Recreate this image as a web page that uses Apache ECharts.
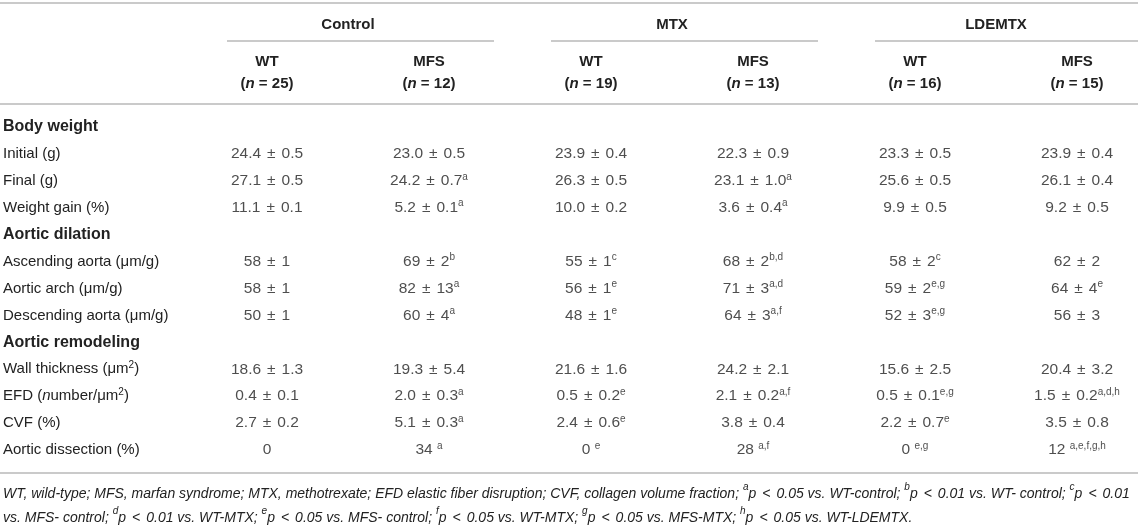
<!DOCTYPE html>
<html>
<head>
<meta charset="utf-8">
<script src="https://cdn.jsdelivr.net/npm/echarts@6/dist/echarts.min.js"></script>
<style>
  html, body { margin: 0; padding: 0; background: #fff; }
  #main { width: 1143px; height: 529px; }
</style>
</head>
<body>
<div id="main"></div>
<script>
// table content
const groups = ['Control', 'MTX', 'LDEMTX']
const columnNames = ['WT', 'MFS', 'WT', 'MFS', 'WT', 'MFS']
const columnN = [25, 12, 19, 13, 16, 15]

const rowLabels = [
	'Body weight',
	'Initial (g)',
	'Final (g)',
	'Weight gain (%)',
	'Aortic dilation',
	'Ascending aorta (μm/g)',
	'Aortic arch (μm/g)',
	'Descending aorta (μm/g)',
	'Aortic remodeling',
	'Wall thickness (μm²)',
	'EFD (number/μm²)',
	'CVF (%)',
	'Aortic dissection (%)',
]
const sectionRows = ['Body weight', 'Aortic dilation', 'Aortic remodeling']

// '^' starts the superscript part of a cell
const controlWT = ['', '24.4 ± 0.5', '27.1 ± 0.5', '11.1 ± 0.1', '', '58 ± 1', '58 ± 1', '50 ± 1', '', '18.6 ± 1.3', '0.4 ± 0.1', '2.7 ± 0.2', '0']
const controlMFS = ['', '23.0 ± 0.5', '24.2 ± 0.7^a', '5.2 ± 0.1^a', '', '69 ± 2^b', '82 ± 13^a', '60 ± 4^a', '', '19.3 ± 5.4', '2.0 ± 0.3^a', '5.1 ± 0.3^a', '34 ^a']
const mtxWT = ['', '23.9 ± 0.4', '26.3 ± 0.5', '10.0 ± 0.2', '', '55 ± 1^c', '56 ± 1^e', '48 ± 1^e', '', '21.6 ± 1.6', '0.5 ± 0.2^e', '2.4 ± 0.6^e', '0 ^e']
const mtxMFS = ['', '22.3 ± 0.9', '23.1 ± 1.0^a', '3.6 ± 0.4^a', '', '68 ± 2^b,d', '71 ± 3^a,d', '64 ± 3^a,f', '', '24.2 ± 2.1', '2.1 ± 0.2^a,f', '3.8 ± 0.4', '28 ^a,f']
const ldemtxWT = ['', '23.3 ± 0.5', '25.6 ± 0.5', '9.9 ± 0.5', '', '58 ± 2^c', '59 ± 2^e,g', '52 ± 3^e,g', '', '15.6 ± 2.5', '0.5 ± 0.1^e,g', '2.2 ± 0.7^e', '0 ^e,g']
const ldemtxMFS = ['', '23.9 ± 0.4', '26.1 ± 0.4', '9.2 ± 0.5', '', '62 ± 2', '64 ± 4^e', '56 ± 3', '', '20.4 ± 3.2', '1.5 ± 0.2^a,d,h', '3.5 ± 0.8', '12 ^a,e,f,g,h']

const footnoteLines = [
	'WT, wild-type; MFS, marfan syndrome; MTX, methotrexate; EFD elastic fiber disruption; CVF, collagen volume fraction; ^ap < 0.05 vs. WT-control; ^bp < 0.01 vs. WT- control; ^cp < 0.01',
	'vs. MFS- control; ^dp < 0.01 vs. WT-MTX; ^ep < 0.05 vs. MFS- control; ^fp < 0.05 vs. WT-MTX; ^gp < 0.05 vs. MFS-MTX; ^hp < 0.05 vs. WT-LDEMTX.',
]

const columns = [controlWT, controlMFS, mtxWT, mtxMFS, ldemtxWT, ldemtxMFS]

const textColor = '#222'
const ruleColor = '#b8b8b8'
const font = 'Liberation Sans, Arial, Helvetica, sans-serif'

const gridLeft = 186
const gridWidth = 972
const gridTop = 113.5
const gridHeight = 350
const colW = gridWidth / columnNames.length
const tableRight = 1138

const cellData = []
columns.forEach((col, c) => {
	col.forEach((v, r) => {
		if (v) cellData.push([c, r, v])
	})
})

// the ± gets a bit more room than a plain space, like the typeset table
const cellText = (v) => {
	const [main, sup] = v.split('^')
	const body = main
		.split(' ± ')
		.map((p) => `{v|${p}}`)
		.join('{pm|±}')
	return sup ? `${body}{s|${sup}}` : body
}

const rowText = (s) => {
	if (sectionRows.includes(s)) return `{h|${s}}`
	const t = s.replace('(number', '(}{ri|n}{r|umber').replace('²', '}{s|2}{r|')
	return `{r|${t}}`
}

const footText = footnoteLines
	.map((l) => `{f|${l.replace(/\^([a-h])/g, '}{fs|$1}{f|').replace(/ < /g, '}{lt|<}{f|')}}`)
	.join('\n')

const rules = [3, 104, 473].map((y) => ({
	type: 'line',
	shape: { x1: 0, y1: y, x2: tableRight, y2: y },
	style: { stroke: ruleColor, lineWidth: 1.5 },
}))
groups.forEach((g, i) => {
	const start = gridLeft + i * 2 * colW
	const end = start + 2 * colW
	rules.push({
		type: 'line',
		shape: { x1: start + 41, y1: 41, x2: Math.min(end - 16, tableRight), y2: 41 },
		style: { stroke: ruleColor, lineWidth: 1.5 },
	})
})

const footBase = { fontStyle: 'italic', fontWeight: 'normal', color: textColor, fontFamily: font }

const chart = echarts.init(document.getElementById('main'))
chart.setOption({
	animation: false,
	textStyle: { fontFamily: font, color: textColor },
	title: {
		left: 3,
		top: 482,
		padding: 0,
		text: footText,
		textStyle: {
			fontWeight: 'normal',
			rich: {
				f: { ...footBase, fontSize: 14, lineHeight: 24 },
				lt: { ...footBase, fontSize: 14, lineHeight: 24, padding: [0, 6, 0, 6] },
				fs: { ...footBase, fontSize: 10, lineHeight: 17, verticalAlign: 'top' },
			},
		},
	},
	grid: {
		left: gridLeft,
		top: gridTop,
		width: gridWidth,
		height: gridHeight,
		outerBoundsMode: 'none',
	},
	xAxis: [
		{
			type: 'category',
			position: 'top',
			data: columnNames.map((n, i) => `{b|${n}}\n{b|(}{bi|n}{b| = ${columnN[i]})}`),
			axisLine: { show: false },
			axisTick: { show: false },
			splitLine: { show: false },
			axisLabel: {
				margin: 18.5,
				interval: 0,
				rich: {
					b: { fontSize: 15, fontWeight: 'bold', lineHeight: 22, color: textColor, fontFamily: font },
					bi: { fontSize: 15, fontWeight: 'bold', fontStyle: 'italic', lineHeight: 22, color: textColor, fontFamily: font },
				},
			},
		},
		{
			type: 'category',
			position: 'top',
			data: groups,
			axisLine: { show: false },
			axisTick: { show: false },
			splitLine: { show: false },
			axisLabel: {
				margin: 78.5,
				interval: 0,
				fontSize: 15,
				fontWeight: 'bold',
				lineHeight: 20,
				color: textColor,
			},
		},
	],
	yAxis: {
		type: 'category',
		inverse: true,
		data: rowLabels.map(rowText),
		axisLine: { show: false },
		axisTick: { show: false },
		splitLine: { show: false },
		axisLabel: {
			align: 'left',
			margin: gridLeft - 3,
			interval: 0,
			rich: {
				h: { fontSize: 16, fontWeight: 'bold', color: textColor, lineHeight: 20, fontFamily: font },
				r: { fontSize: 15, color: textColor, lineHeight: 18, fontFamily: font },
				ri: { fontSize: 15, fontStyle: 'italic', color: textColor, lineHeight: 18, fontFamily: font },
				s: { fontSize: 10, color: textColor, lineHeight: 11, verticalAlign: 'top', fontFamily: font },
			},
		},
	},
	series: [
		{
			type: 'scatter',
			xAxisIndex: 0,
			symbolSize: 1,
			silent: true,
			itemStyle: { color: 'rgba(0,0,0,0)' },
			emphasis: { disabled: true },
			data: cellData,
			label: {
				show: true,
				position: 'inside',
				formatter: (p) => cellText(p.data[2]),
				rich: {
					v: { fontSize: 15.5, color: textColor, lineHeight: 18, fontFamily: font },
					pm: { fontSize: 15.5, color: textColor, lineHeight: 18, fontFamily: font, padding: [0, 6, 0, 6] },
					s: { fontSize: 10, color: textColor, lineHeight: 11, verticalAlign: 'top', fontFamily: font },
				},
			},
		},
	],
	graphic: rules,
})
</script>
</body>
</html>
